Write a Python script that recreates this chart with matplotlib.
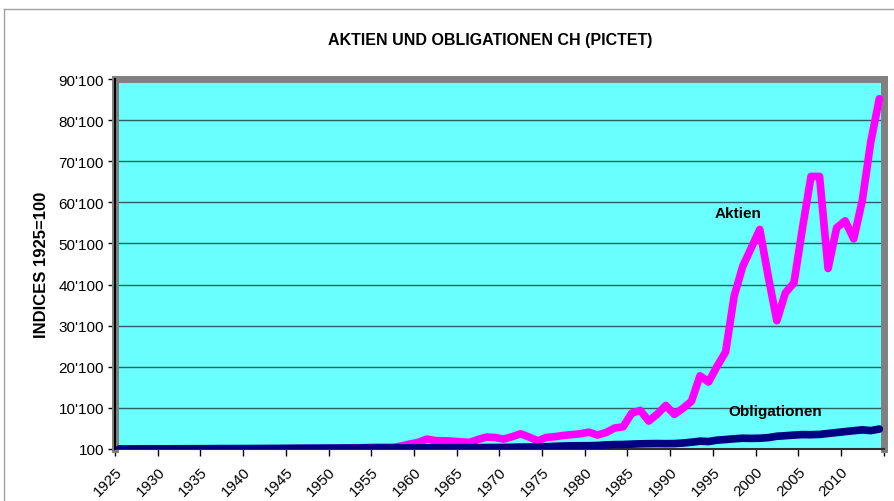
import matplotlib
matplotlib.use("Agg")
from matplotlib import pyplot as plt
from matplotlib.ticker import FuncFormatter
import numpy as np

plt.rcParams['font.family'] = ['Liberation Sans', 'DejaVu Sans']

years = np.arange(1925, 2015)

aktien = [
    100, 115, 140, 165, 155, 150, 115, 100, 115, 110,
    100, 135, 160, 150, 135, 125, 150, 165, 165, 170,
    190, 240, 250, 240, 260, 290, 330, 340, 370, 450,
    520, 530, 510, 800, 1300, 1700, 2500, 2150, 2100, 2000,
    1850, 1700, 2400, 3000, 2900, 2500, 3100, 3800, 3000, 2100,
    2900, 3100, 3400, 3600, 3800, 4200, 3500, 4100, 5200, 5500,
    8800, 9500, 6900, 8600, 10700, 8500, 10000, 11700, 17900, 16400,
    20200, 23700, 37300, 44500, 49000, 53500, 42000, 31300, 38100, 40500,
    53800, 66400, 66400, 44000, 53900, 55600, 51200, 60500, 74800, 85300,
]

obligationen = [
    100, 110, 120, 130, 135, 140, 150, 160, 165, 170,
    175, 185, 195, 200, 205, 210, 215, 225, 235, 245,
    255, 265, 270, 280, 290, 300, 305, 315, 325, 335,
    340, 345, 350, 365, 375, 385, 395, 405, 410, 415,
    425, 435, 445, 460, 470, 480, 520, 560, 570, 570,
    650, 750, 820, 870, 900, 900, 950, 1100, 1170, 1200,
    1280, 1360, 1400, 1420, 1400, 1420, 1550, 1750, 2000, 1920,
    2250, 2400, 2580, 2720, 2680, 2720, 2870, 3200, 3330, 3480,
    3600, 3580, 3650, 3880, 4100, 4330, 4550, 4750, 4580, 4950,
]

y_ticks = np.arange(100, 90101, 10000)
x_ticks = np.arange(1925, 2015, 5)

fig = plt.figure(figsize=(8.94, 5.02), dpi=100)
ax = fig.add_axes([115 / 894, 52 / 502, 768.6 / 894, 370 / 502])
ax.set_facecolor('#6AFFFF')

# categories are centred between tick marks
xc = years + 0.5
ax.plot(xc, aktien, color='#FF00FF', lw=5.5, solid_capstyle='round',
        solid_joinstyle='round', zorder=3)
ax.plot(xc, obligationen, color='#000080', lw=5.5, solid_capstyle='round',
        solid_joinstyle='round', zorder=4)

ax.set_xlim(1925, 2015)
ax.set_ylim(100, 90100)
ax.set_yticks(y_ticks)
ax.yaxis.set_major_formatter(FuncFormatter(lambda v, p: f"{int(v):,}".replace(",", "'")))
ax.set_xticks(np.append(x_ticks, 2015))
ax.set_xticklabels([str(y) for y in x_ticks] + [''], rotation=45, ha='right',
                   va='top', rotation_mode='anchor')
ax.tick_params(axis='both', labelsize=11, length=5, width=1, color='black')
ax.tick_params(axis='y', pad=3)
ax.tick_params(axis='x', pad=6)

ax.grid(axis='y', color='#2c6060', lw=1)
ax.set_axisbelow(True)

for side in ['top', 'right', 'left']:
    ax.spines[side].set_color('#808080')
    ax.spines[side].set_linewidth(5)
ax.spines['bottom'].set_color('#303030')
ax.spines['bottom'].set_linewidth(1.5)
ax.axvline(1925, color='black', lw=1.5, zorder=5, clip_on=False)

ax.set_ylabel("INDICES 1925=100", fontsize=12, fontweight='bold', labelpad=7)

ax.text(1998, 57500, "Aktien", fontsize=11, fontweight='bold', ha='center', va='center')
ax.text(2002.3, 9300, "Obligationen", fontsize=11, fontweight='bold', ha='center', va='center')

fig.text(490 / 894, 1 - 40 / 502, "AKTIEN UND OBLIGATIONEN CH (PICTET)",
         fontsize=11.5, fontweight='bold', ha='center', va='center')

# outer chart border
fig.add_artist(plt.Line2D([4 / 894, 4 / 894], [0, 1 - 10 / 502], color='#a0a0a0', lw=1))
fig.add_artist(plt.Line2D([4 / 894, 1], [1 - 10 / 502, 1 - 10 / 502], color='#a0a0a0', lw=1))

fig.savefig("out.png", dpi=100)
